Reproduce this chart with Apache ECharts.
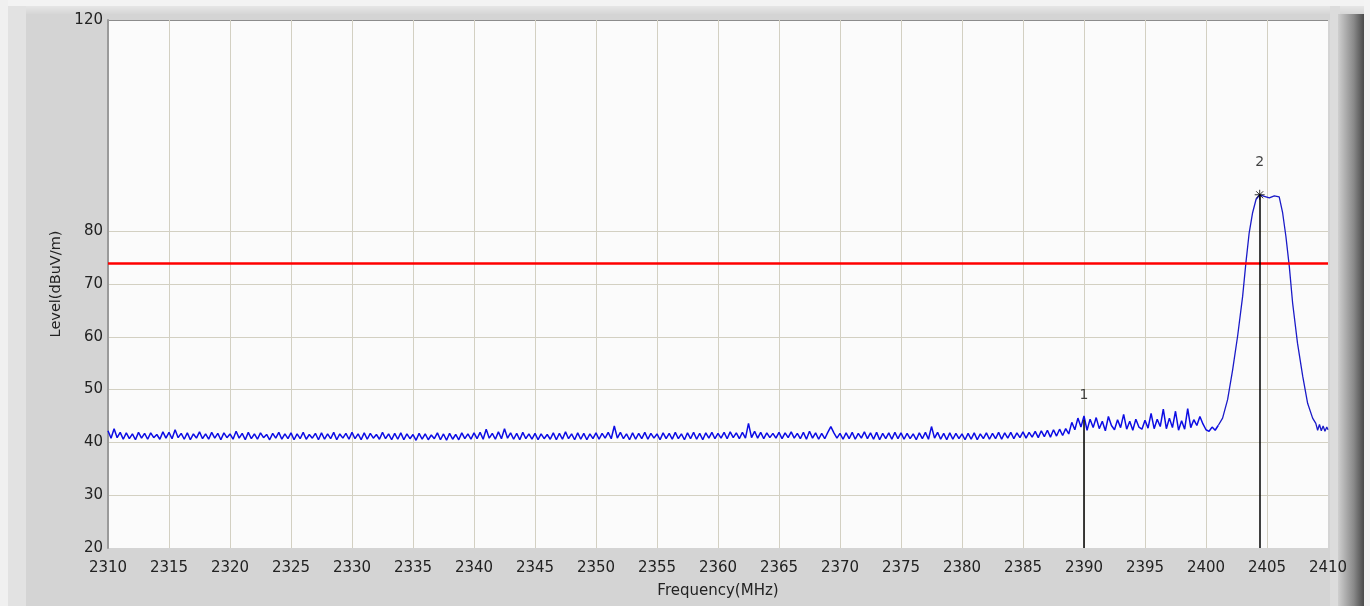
<!DOCTYPE html>
<html>
<head>
<meta charset="utf-8">
<script src="https://cdn.jsdelivr.net/npm/echarts@6/dist/echarts.min.js"></script>
<style>
html,body{margin:0;padding:0;background:#d4d4d4;}
#chart{width:1370px;height:606px;}
</style>
</head>
<body>
<div id="chart"></div>
<script>
// ---- data ----
const freqMin = 2310, freqMax = 2410, freqStep = 0.25;
const xTicks = [2310,2315,2320,2325,2330,2335,2340,2345,2350,2355,2360,2365,2370,2375,2380,2385,2390,2395,2400,2405,2410];
const yTicks = [20,30,40,50,60,70,80,120];

// noise floor, 2310.00 .. 2388.75 MHz, 0.25 MHz step
const floorLevels = [
 42.2,40.8,42.6,40.9,41.9,40.6,41.8,40.7,41.6,40.5,41.9,40.8,41.7,40.6,41.8,40.9,41.5,40.6,42.0,40.8,
 41.9,40.7,42.4,40.9,41.7,40.6,41.8,40.5,41.6,40.8,42.0,40.7,41.6,40.6,41.9,40.8,41.7,40.5,41.8,40.9,
 41.6,40.6,42.1,40.8,41.7,40.5,41.9,40.7,41.6,40.6,41.8,40.9,41.5,40.5,41.7,40.8,41.9,40.6,41.6,40.7,
 41.8,40.5,41.6,40.7,41.9,40.6,41.5,40.8,41.7,40.5,41.8,40.6,41.6,40.7,41.9,40.5,41.6,40.8,41.7,40.6,
 41.9,40.7,41.6,40.5,41.8,40.6,41.7,40.8,41.5,40.6,41.9,40.7,41.6,40.5,41.7,40.6,41.8,40.5,41.6,40.7,
 41.5,40.4,41.7,40.6,41.6,40.5,41.4,40.7,41.8,40.5,41.6,40.4,41.7,40.6,41.5,40.5,41.8,40.7,41.6,40.6,
 41.8,40.7,41.9,40.6,42.5,40.8,41.7,40.6,42.0,40.7,42.6,40.8,41.8,40.6,41.7,40.5,41.9,40.7,41.6,40.6,
 41.7,40.5,41.6,40.7,41.5,40.6,41.8,40.5,41.7,40.6,42.0,40.7,41.6,40.5,41.8,40.6,41.7,40.5,41.6,40.7,
 41.8,40.6,41.7,40.8,41.9,40.7,43.1,40.8,41.9,40.7,41.6,40.5,41.8,40.6,41.7,40.7,41.9,40.6,41.7,40.8,
 41.6,40.5,41.8,40.7,41.7,40.6,41.9,40.7,41.6,40.5,41.8,40.7,41.9,40.6,41.7,40.5,41.8,40.8,41.9,40.7,
 41.7,40.8,41.9,40.7,42.0,40.9,41.8,40.7,41.9,40.8,43.6,40.9,42.1,40.8,41.9,40.7,41.8,40.9,41.7,40.8,
 41.9,40.7,41.8,40.9,42.0,40.8,41.7,40.7,41.9,40.6,42.1,40.8,41.8,40.6,41.7,40.7,41.9,43.0,41.8,40.8,
 41.7,40.6,41.8,40.7,41.9,40.6,41.7,40.8,42.0,40.7,41.8,40.6,41.9,40.5,41.7,40.7,41.8,40.6,41.9,40.7,
 41.8,40.6,41.7,40.7,41.6,40.5,41.8,40.7,41.9,40.6,43.0,40.8,41.9,40.6,41.7,40.5,41.8,40.6,41.7,40.7,
 41.6,40.5,41.7,40.6,41.8,40.5,41.6,40.7,41.8,40.6,41.7,40.7,41.9,40.6,41.8,40.8,41.9,40.7,41.8,40.9,
 42.0,40.8,41.9,41.0,42.1,40.9,42.2,41.1,42.3,41.0,42.4,41.2,42.5,41.3,42.6,41.6
];
// raised band, 2389.00 .. 2401.00 MHz, 0.25 MHz step
const bandStart = 2389;
const bandLevels = [
 43.8,42.4,44.6,42.9,45.0,42.3,44.4,42.8,
 44.7,42.6,44.0,42.2,44.9,43.2,42.4,44.3,
 42.8,45.3,42.5,44.0,42.3,44.4,42.9,42.5,
 44.2,42.7,45.5,42.6,44.4,43.0,46.3,42.6,
 44.6,42.8,45.9,42.3,44.1,42.5,46.4,42.8,
 44.3,43.2,44.9,43.5,42.4,42.1,42.9,42.3,
 43.2
];
// carrier, explicit frequencies
const peakFreqs  = [2401.36,2401.77,2402.18,2402.59,2403.0,2403.27,2403.54,2403.82,2404.1,2404.4,2404.78,2405.19,2405.6,2406.0,2406.28,2406.55,2406.83,2407.1,2407.5,2407.93,2408.33,2408.74,2409.0,2409.15,2409.3,2409.45,2409.6,2409.75,2409.9,2410.0];
const peakLevels = [44.6,48.1,53.7,60.1,67.6,74.0,79.7,83.5,86.0,86.9,86.6,86.3,86.7,86.5,83.5,79.0,73.3,66.4,58.8,52.5,47.4,44.6,43.6,42.3,43.4,42.2,43.1,42.1,42.9,42.4];

const limitLevel = 74;
const markerNames  = ['1','2'];
const markerFreqs  = [2390, 2404.4];
const markerLevels = [44.3, 86.9];

// ---- build series data ----
const noiseTrace = [];
floorLevels.forEach((v,i)=>noiseTrace.push([freqMin + i*freqStep, v]));
bandLevels.forEach((v,i)=>noiseTrace.push([bandStart + i*freqStep, v]));
const peakTrace = [noiseTrace[noiseTrace.length-1]];
peakFreqs.forEach((f,i)=>peakTrace.push([f, peakLevels[i]]));

const markerData = markerNames.map((n,i)=>({
  name:n, value:[markerFreqs[i], markerLevels[i]],
  symbol: i===1 ? 'path://M0,5L10,5M5,0L5,10M1.5,1.5L8.5,8.5M8.5,1.5L1.5,8.5' : 'circle',
  symbolSize: i===1 ? 10 : 2,
  itemStyle: i===1 ? {color:'none', borderColor:'#000', borderWidth:1} : {color:'rgba(0,0,0,0)', borderWidth:0},
  label:{distance: i===1 ? 18 : 16}
}));
const markerLines = markerNames.map((n,i)=>[
  {coord:[markerFreqs[i], markerLevels[i]]},
  {coord:[markerFreqs[i], yTicks[0]]}
]);

const gridCol = '#d3d0c2';
const yLineColors = [];
for (let v = 20; v <= 120; v += 10) {
  if (v === 20) yLineColors.push('rgba(0,0,0,0)');
  else if (v === 120) yLineColors.push('#8c8c8c');
  else if (v > 80) yLineColors.push('rgba(0,0,0,0)');
  else yLineColors.push(gridCol);
}

const traceColor = '#0c0ce4';
const chart = echarts.init(document.getElementById('chart'), null, {renderer:'canvas'});
const font = 'DejaVu Sans';
chart.setOption({
  backgroundColor:'#d4d4d4',
  animation:false,
  graphic:[
    {type:'rect', shape:{x:0,y:0,width:1370,height:6}, style:{fill:'#f3f3f3'}, z:-1},
    {type:'rect', shape:{x:0,y:6,width:1370,height:8}, style:{fill:new echarts.graphic.LinearGradient(0,0,0,1,[{offset:0,color:'#e6e6e6'},{offset:1,color:'#d6d6d6'}])}, z:-1},
    {type:'rect', shape:{x:0,y:0,width:8,height:606}, style:{fill:'#f0f0f0'}, z:-1},
    {type:'rect', shape:{x:8,y:6,width:18,height:600}, style:{fill:'#e2e2e2'}, z:-1},
    {type:'rect', shape:{x:1330,y:6,width:10,height:600}, style:{fill:'#dcdcdc'}, z:-1},
    {type:'rect', shape:{x:1338,y:14,width:26,height:592}, style:{fill:new echarts.graphic.LinearGradient(0,0,1,0,[{offset:0,color:'#cfcfcf'},{offset:0.6,color:'#8a8a8a'},{offset:1,color:'#4a4a4a'}])}, z:-1},
    {type:'rect', shape:{x:1364,y:0,width:6,height:606}, style:{fill:'#f4f4f4'}, z:-1}
  ],
  grid:{left:108, top:20, width:1220, height:528, show:true, backgroundColor:'#fbfbfb', borderWidth:0, containLabel:false},
  xAxis:{
    type:'value', min:freqMin, max:freqMax, interval:5,
    name:'Frequency(MHz)', nameLocation:'middle', nameGap:36,
    nameTextStyle:{fontFamily:font, fontSize:15, color:'#222'},
    axisLine:{show:false}, axisTick:{show:false},
    axisLabel:{fontFamily:font, fontSize:15, color:'#222', margin:13,
      formatter:(v)=> xTicks.indexOf(v) >= 0 ? String(v) : ''},
    splitLine:{show:true, showMinLine:false, showMaxLine:false, lineStyle:{color:gridCol, width:1}}
  },
  yAxis:{
    type:'value', min:20, max:120, interval:10,
    name:'Level(dBuV/m)', nameLocation:'middle', nameGap:38, nameRotate:90,
    nameTextStyle:{fontFamily:font, fontSize:14.5, color:'#222'},
    axisLine:{show:true, lineStyle:{color:'#9a9a9a', width:2}}, axisTick:{show:false},
    axisLabel:{fontFamily:font, fontSize:15, color:'#222', margin:5,
      formatter:(v)=> yTicks.indexOf(v) >= 0 ? String(v) : ''},
    splitLine:{show:true, lineStyle:{color:yLineColors, width:1}}
  },
  series:[
    {
      type:'line', name:'Level', data:noiseTrace, showSymbol:false, symbol:'none',
      lineStyle:{color:traceColor, width:1.5}, z:3,
      markLine:{silent:true, symbol:'none', label:{show:false},
        lineStyle:{color:'#ff0000', width:2.5, type:'solid'},
        data:[{yAxis:limitLevel}]}
    },
    {
      type:'line', name:'Carrier', data:peakTrace, showSymbol:false, symbol:'none',
      lineStyle:{color:'#1a1ac8', width:1.3}, z:3
    },
    {
      type:'scatter', name:'Markers', data:markerData, z:5,
      label:{show:true, position:'top', formatter:'{b}', fontFamily:font, fontSize:14, color:'#111'},
      markLine:{silent:true, symbol:'none', label:{show:false},
        lineStyle:{color:'#000', width:1.5, type:'solid'},
        data:markerLines}
    }
  ]
});
</script>
</body>
</html>
